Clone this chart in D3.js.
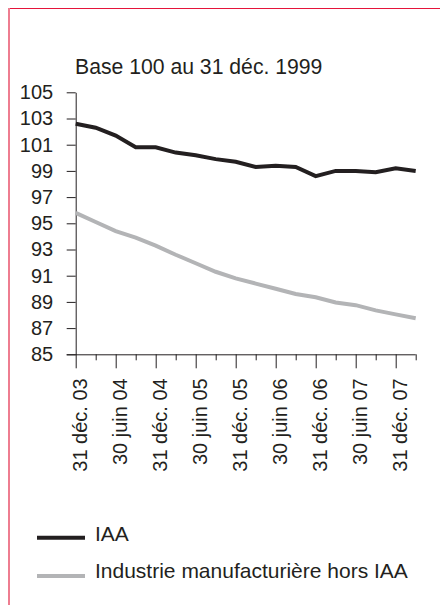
<!DOCTYPE html>
<html>
<head>
<meta charset="utf-8">
<script src="https://cdn.jsdelivr.net/npm/d3@7"></script>
<style>
  html, body { margin: 0; padding: 0; background: #fff; }
  svg { display: block; }
  text { font-family: "Liberation Sans", Arial, sans-serif; fill: #231f20; }
</style>
</head>
<body>
<svg id="chart" width="440" height="605"></svg>
<script>
// ---- Data ----
const categories = [
  "31 déc. 03", "31 mars 04", "30 juin 04", "30 sept. 04",
  "31 déc. 04", "31 mars 05", "30 juin 05", "30 sept. 05",
  "31 déc. 05", "31 mars 06", "30 juin 06", "30 sept. 06",
  "31 déc. 06", "31 mars 07", "30 juin 07", "30 sept. 07",
  "31 déc. 07", "31 mars 08"
];
const iaa = [102.6, 102.3, 101.7, 100.8, 100.8, 100.4, 100.2, 99.9, 99.7,
             99.3, 99.4, 99.3, 98.6, 99.0, 99.0, 98.9, 99.2, 99.0];
const manuf = [95.8, 95.1, 94.4, 93.9, 93.3, 92.6, 91.95, 91.3, 90.8,
               90.4, 90.0, 89.6, 89.35, 88.95, 88.75, 88.35, 88.05, 87.75];
const yTicks = [85, 87, 89, 91, 93, 95, 97, 99, 101, 103, 105];
const seriesNames = ["IAA", "Industrie manufacturière hors IAA"];
const title = "Base 100 au 31 déc. 1999";

// ---- Layout ----
const svg = d3.select("#chart");
const plotL = 75.7, plotR = 415.7, plotT = 92.3, plotB = 354.3;
const ink = "#231f20";
const colors = ["#231f20", "#b3b4b6"];

// frame
svg.append("line").attr("x1", 8).attr("x2", 440).attr("y1", 8.5).attr("y2", 8.5)
  .attr("stroke", "#e5143a").attr("stroke-width", 1.2);
svg.append("line").attr("x1", 9).attr("x2", 9).attr("y1", 8).attr("y2", 605)
  .attr("stroke", "#ee7d90").attr("stroke-width", 2);

const x = d3.scaleLinear().domain([0, categories.length - 1]).range([plotL, plotR]);
const y = d3.scaleLinear().domain([85, 105]).range([plotB, plotT]);

// title
svg.append("text").attr("x", 75).attr("y", 74)
  .attr("font-size", 21.2).text(title);

// y axis
const yAxis = svg.append("g").attr("transform", `translate(${plotL},0)`)
  .call(d3.axisLeft(y).tickValues(yTicks).tickSize(9).tickPadding(13.5).tickSizeOuter(0));
yAxis.select(".domain").attr("stroke", ink);
yAxis.selectAll(".tick line").attr("stroke", ink);
yAxis.selectAll(".tick text").attr("font-size", 20).attr("fill", ink)
  .attr("font-family", "Liberation Sans, Arial, sans-serif");

// x axis
const xAxis = svg.append("g").attr("transform", `translate(0,${plotB})`)
  .call(d3.axisBottom(x).tickValues(d3.range(categories.length))
    .tickFormat(i => i % 2 === 0 ? categories[i] : "")
    .tickSizeOuter(0));
xAxis.select(".domain").attr("stroke", ink).attr("d", `M${plotL - 9},0.5H${plotR}`);
xAxis.selectAll(".tick line").attr("stroke", ink)
  .attr("y2", i => i % 2 === 0 ? 14 : 6);
xAxis.selectAll(".tick text")
  .attr("font-size", 20).attr("fill", ink)
  .attr("font-family", "Liberation Sans, Arial, sans-serif")
  .attr("text-anchor", "end")
  .attr("transform", "rotate(-90)")
  .attr("x", -24).attr("y", 3.5).attr("dy", "0.35em");

// lines
const line = d3.line().x((d, i) => x(i)).y(d => y(d));
[iaa, manuf].forEach((s, k) => {
  svg.append("path").datum(s).attr("d", line)
    .attr("fill", "none").attr("stroke", colors[k])
    .attr("stroke-width", 4).attr("stroke-linejoin", "miter");
});

// legend
const legY = [537.7, 576];
const legTextY = [541.3, 577.7];
seriesNames.forEach((n, k) => {
  svg.append("line").attr("x1", 37).attr("x2", 85)
    .attr("y1", legY[k]).attr("y2", legY[k])
    .attr("stroke", colors[k]).attr("stroke-width", 4);
  svg.append("text").attr("x", 95).attr("y", legTextY[k])
    .attr("font-size", 21).text(n);
});
</script>
</body>
</html>
